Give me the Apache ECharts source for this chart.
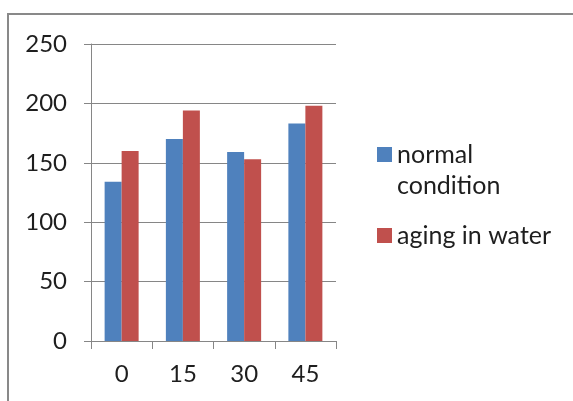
<!DOCTYPE html>
<html>
<head>
<meta charset="utf-8">
<script src="https://cdn.jsdelivr.net/npm/echarts@6/dist/echarts.min.js"></script>
<style>
html,body{margin:0;padding:0;background:#fff;}
#chart{width:573px;height:401px;}
</style>
</head>
<body>
<div id="chart"></div>
<script>
var categories = ['0', '15', '30', '45'];
var normalCondition = [134, 170, 159, 183];
var agingInWater = [160, 194, 153, 198];
var yTicks = [0, 50, 100, 150, 200, 250];

var chart = echarts.init(document.getElementById('chart'), null, {renderer: 'canvas'});
var FONT = 'Lato';
var FS = 24;
var TXT = '#1e1e1e';
var legendText = {fontFamily: FONT, fontSize: 25, color: TXT, lineHeight: 31};
var option = {
  animation: false,
  backgroundColor: '#ffffff',
  textStyle: {fontFamily: FONT},
  graphic: [{
    type: 'rect',
    shape: {x: 8, y: 14, width: 700, height: 500},
    style: {fill: 'none', stroke: '#898989', lineWidth: 2},
    z: -1
  }],
  grid: {left: 91, right: 237, top: 44, bottom: 60},
  legend: [{
    orient: 'vertical',
    left: 377,
    top: 139,
    padding: 0,
    itemWidth: 15,
    itemHeight: 62,
    itemGap: 0,
    itemTextGap: 9,
    symbolKeepAspect: false,
    icon: 'path://M0,8L15,8L15,23L0,23ZM0,0L0,0M15,62L15,62',
    itemStyle: {borderWidth: 0},
    formatter: function () { return 'normal\ncondition'; },
    textStyle: legendText,
    data: ['normal condition']
  }, {
    orient: 'vertical',
    left: 377,
    top: 220,
    padding: 0,
    itemWidth: 15,
    itemHeight: 15,
    itemGap: 0,
    itemTextGap: 9,
    icon: 'rect',
    itemStyle: {borderWidth: 0},
    textStyle: legendText,
    data: ['aging in water']
  }],
  xAxis: {
    type: 'category',
    data: categories,
    axisLine: {lineStyle: {color: '#868686', width: 1}},
    axisTick: {show: true, length: 8, lineStyle: {color: '#868686'}},
    axisLabel: {fontFamily: FONT, fontSize: FS, color: TXT, margin: 21}
  },
  yAxis: {
    type: 'value',
    min: yTicks[0],
    max: yTicks[yTicks.length - 1],
    interval: 50,
    axisLine: {show: true, lineStyle: {color: '#868686', width: 1}},
    axisTick: {show: true, length: 7, lineStyle: {color: '#868686'}},
    splitLine: {show: true, lineStyle: {color: '#868686', width: 1}},
    axisLabel: {fontFamily: FONT, fontSize: FS, color: TXT, margin: 24}
  },
  series: [{
    name: 'normal condition',
    type: 'bar',
    data: normalCondition,
    barWidth: 17,
    barGap: '0%',
    itemStyle: {color: '#4F81BD'}
  }, {
    name: 'aging in water',
    type: 'bar',
    data: agingInWater,
    barWidth: 17,
    barGap: '0%',
    itemStyle: {color: '#C0504D'}
  }]
};
chart.setOption(option);
</script>
</body>
</html>
